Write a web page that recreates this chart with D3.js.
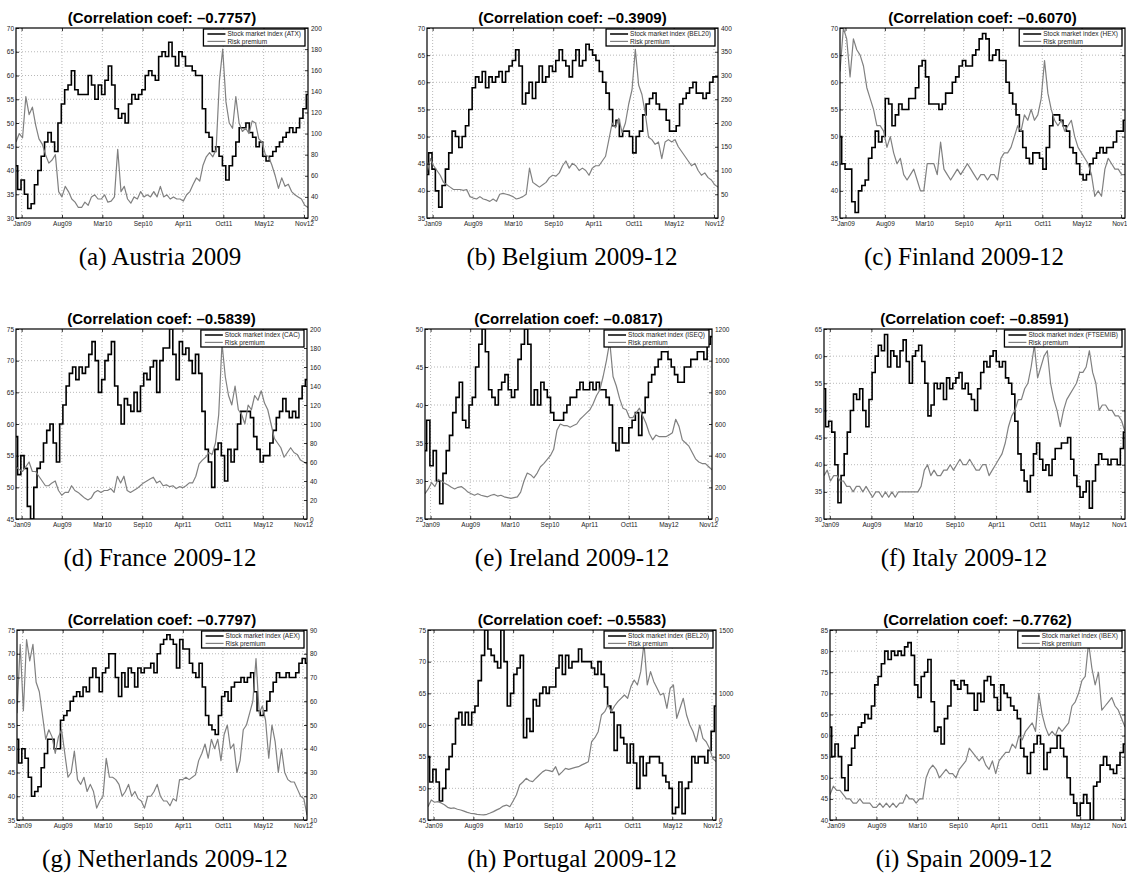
<!DOCTYPE html>
<html><head><meta charset="utf-8">
<script src="https://cdn.jsdelivr.net/npm/d3@7"></script>
<style>body{margin:0;background:#fff}svg{display:block}</style>
</head><body><svg id="c" width="1127" height="881"></svg>
<script>
const xTickLabels = ["Jan09","Aug09","Mar10","Sep10","Apr11","Oct11","May12","Nov12"];
const xDomain = [-0.14, 7.1];

const coefficients = [-0.7757,-0.3909,-0.6070,-0.5839,-0.0817,-0.8591,-0.7797,-0.5583,-0.7762];
const captions = ["(a) Austria 2009","(b) Belgium 2009-12","(c) Finland 2009-12","(d) France 2009-12","(e) Ireland 2009-12","(f) Italy 2009-12","(g) Netherlands 2009-12","(h) Portugal 2009-12","(i) Spain 2009-12"];
const indexNames = ["ATX","BEL20","HEX","CAC","ISEQ","FTSEMIB","AEX","BEL20","IBEX"];
const leftDomains = [[30,70],[35,70],[35,70],[45,75],[25,50],[30,65],[35,75],[45,75],[40,85]];
const rightDomains = [[20,200],[0,400],[35,70],[0,200],[0,1200],[30,65],[10,90],[0,1500],[40,85]];
const rightSteps = [20,50,5,20,200,5,10,500,5];

const austriaIndex = [41,36,38,35,32,33,37,40,43,46,48,46,44,50,54,57,58,61,57,56,56,56,60,58,55,58,56,59,62,58,53,51,52,50,54,56,55,56,57,60,61,60,59,64,65,64,67,64,62,65,64,62,62,61,60,60,53,48,47,44,45,43,41,38,41,43,46,49,49,50,48,47,45,46,43,42,43,44,45,46,47,48,49,48,49,51,53,56];
const austriaRisk = [92,100,96,135,118,125,108,95,90,80,72,75,80,45,40,50,45,38,35,30,30,35,32,40,42,38,38,42,35,36,40,85,45,50,38,34,40,38,45,40,42,40,45,40,50,40,42,38,40,38,38,36,42,45,52,58,55,70,78,82,78,85,150,180,130,110,105,135,110,102,105,100,112,110,95,92,80,78,70,60,48,58,50,52,45,42,40,38,32,30];

const belgiumIndex = [43,47,44,40,37,41,44,47,51,50,48,50,52,55,59,61,60,62,59,61,60,61,62,60,62,63,64,66,63,56,58,60,57,60,63,60,61,63,62,64,66,64,63,61,64,66,63,64,67,66,65,64,62,60,58,55,52,53,50,51,51,50,47,50,51,54,56,57,58,56,55,55,53,51,51,52,56,57,58,59,60,58,58,57,58,60,61,61];
const belgiumRisk = [95,125,110,100,90,75,70,65,60,60,60,58,60,45,42,40,45,40,38,35,40,35,50,52,50,48,45,40,42,45,50,105,75,70,65,70,75,85,90,88,95,110,120,105,115,110,100,105,100,90,105,110,110,120,130,165,200,190,210,180,200,240,270,355,280,260,220,170,165,155,160,125,160,165,160,165,150,140,130,120,110,115,100,90,95,85,80,70,65];

const finlandIndex = [50,45,44,44,38,36,40,41,42,46,48,51,49,50,57,56,52,54,56,55,55,57,57,59,63,64,61,56,56,56,55,56,58,58,60,61,63,64,63,63,65,66,68,69,68,64,65,66,64,64,60,58,56,54,51,48,46,45,47,47,46,44,48,52,54,54,53,52,51,48,47,45,43,42,43,45,46,47,48,47,48,48,49,51,51,53];
const finlandRisk = [62,70,68,61,68,66,65,63,59,57,55,52,52,51,48,50,47,45,46,43,42,43,44,42,40,40,45,45,45,43,49,44,43,42,43,44,43,44,45,44,43,42,43,43,42,43,43,42,46,47,47,48,50,52,51,54,53,55,53,54,57,64,58,55,53,52,53,51,52,53,50,48,47,46,45,43,39,40,39,44,46,45,44,44,43,43];

const franceIndex = [58,52,55,53,47,45,50,53,54,57,59,60,57,54,60,63,66,68,69,67,69,68,69,71,73,70,65,67,70,71,73,66,63,60,64,63,62,65,62,66,68,67,69,70,65,70,72,72,75,71,67,73,71,72,70,68,71,68,62,56,54,50,56,57,55,51,56,54,56,60,62,62,62,61,58,56,54,55,55,57,59,61,62,64,62,61,62,61,64,66,67];
const franceRisk = [55,52,50,55,60,50,50,45,40,35,35,38,40,30,25,28,28,35,30,28,25,22,20,22,28,30,28,30,30,32,28,45,38,45,30,28,30,32,35,38,40,42,44,38,40,35,36,34,35,32,34,33,35,38,38,45,58,62,65,70,68,80,110,185,150,130,120,140,115,110,100,120,115,130,125,135,122,115,100,85,80,75,65,70,75,70,68,62,60,58];

const irelandIndex = [34,38,32,34,30,27,31,34,36,39,41,43,38,37,40,41,45,48,50,47,42,41,40,42,43,44,42,41,42,46,48,50,48,40,42,40,43,42,41,39,38,38,38,39,40,41,41,42,43,42,42,43,42,43,42,42,41,40,35,34,37,35,35,37,38,39,36,39,41,43,44,45,46,47,47,46,45,44,43,43,45,45,46,46,47,47,46,48,49];
const irelandRisk = [160,190,230,205,250,240,225,215,200,190,200,205,190,170,160,150,160,150,145,140,150,155,145,150,140,135,130,135,140,170,240,290,280,260,290,330,350,375,400,440,560,600,590,590,580,590,600,630,650,670,690,730,780,815,900,1000,1120,900,840,760,700,690,640,640,670,700,650,605,540,500,530,520,520,520,530,545,630,585,500,480,460,420,380,360,350,350,330,310];

const italyIndex = [54,47,48,46,40,33,38,42,46,50,53,52,54,50,47,52,57,60,62,61,64,58,61,60,58,61,63,59,55,60,61,62,59,55,49,51,55,54,55,52,56,54,55,56,57,54,55,53,52,50,54,57,59,58,60,61,59,58,59,56,55,53,48,42,39,37,35,38,42,44,41,39,40,38,41,43,43,44,44,45,41,38,36,34,35,37,32,37,40,42,41,41,40,41,41,40,43,46];
const italyRisk = [38,39,37,38,38,37,37,36,36,35,36,36,35,36,35,34,35,35,34,35,34,35,34,35,35,35,35,35,35,35,36,39,40,38,39,38,38,39,39,40,39,40,41,40,40,41,40,39,39,40,40,38,39,40,41,42,44,47,49,50,52,52,54,55,58,62,56,58,60,61,55,52,50,47,50,52,53,54,55,57,57,58,61,57,55,50,51,51,50,50,49,49,48,46];

const netherlandsIndex = [52,47,50,48,44,40,41,42,46,49,52,52,50,50,56,57,58,60,61,62,61,63,62,65,67,65,62,66,67,70,70,65,61,66,63,67,66,63,67,66,67,67,68,66,70,72,73,74,73,72,67,73,71,71,68,66,65,68,63,57,55,54,53,57,61,62,60,63,64,64,65,64,65,66,62,58,57,58,60,62,64,66,65,65,66,65,65,66,68,69,68];
const netherlandsRisk = [55,84,56,86,77,84,68,64,54,44,48,45,38,45,48,38,28,30,39,27,25,28,22,25,22,15,18,20,36,28,28,27,25,20,22,25,20,22,19,18,15,20,20,22,25,20,18,18,16,19,18,27,27,28,27,28,29,35,38,42,36,44,40,44,35,46,50,40,42,30,35,48,50,55,60,78,55,58,52,36,50,43,30,40,30,27,26,26,23,20,19,12];

const portugalIndex = [55,51,53,51,48,50,53,55,57,61,62,60,62,60,62,63,67,71,75,72,71,70,69,75,70,63,65,68,69,71,58,61,59,64,63,65,66,65,66,66,69,71,68,71,69,70,70,72,70,70,70,69,68,70,68,66,63,62,56,60,58,57,54,57,54,50,55,52,54,55,55,55,54,52,51,50,46,47,51,46,50,51,55,54,55,55,54,56,59,63];
const portugalRisk = [105,158,140,145,135,120,100,92,95,85,79,70,60,53,50,45,42,40,45,55,66,80,92,110,118,105,150,197,276,300,329,310,303,330,355,380,395,390,382,421,355,380,408,400,408,415,421,435,447,460,618,650,697,829,855,908,855,900,934,960,987,961,1053,1105,1066,1171,1395,1066,1171,1092,1040,987,1000,882,1040,1066,803,882,961,829,750,697,618,750,645,618,566,487,461];

const spainIndex = [62,55,58,55,50,47,53,57,60,62,63,65,64,67,72,74,77,80,78,80,79,80,79,81,82,79,72,69,74,75,78,68,61,62,58,64,67,73,72,71,73,72,70,70,66,70,68,73,74,72,69,66,72,70,69,67,66,64,57,55,51,56,58,60,58,52,56,57,57,60,57,55,50,46,44,41,44,46,44,40,48,49,53,55,53,52,51,53,56,58];
const spainRisk = [46,48,47,47,46,45,45,44,44,45,44,44,44,43,43,44,43,44,43,44,43,44,44,46,45,45,44,45,45,50,52,53,52,50,51,52,51,51,50,52,53,54,57,56,55,54,55,53,52,54,51,54,55,56,56,58,57,60,59,61,62,63,61,70,65,62,60,61,60,62,61,62,63,67,68,70,73,74,82,76,72,75,66,67,68,69,67,66,64,62];

const stockSeries = [austriaIndex,belgiumIndex,finlandIndex,franceIndex,irelandIndex,italyIndex,netherlandsIndex,portugalIndex,spainIndex];
const riskSeries = [austriaRisk,belgiumRisk,finlandRisk,franceRisk,irelandRisk,italyRisk,netherlandsRisk,portugalRisk,spainRisk];

// layout (pixels) kept apart from the data; rightLabels=false where the reference crops them off
const layout = [
 {L:16,R:308,T:28,B:218,cap:160,rightLabels:true},
 {L:427,R:718,T:28,B:218,cap:572,rightLabels:true},
 {L:840,R:1125,T:28,B:218,cap:964,rightLabels:false},
 {L:16,R:307,T:329,B:519,cap:160,rightLabels:true},
 {L:425,R:712,T:329,B:519,cap:572,rightLabels:true},
 {L:824,R:1125,T:329,B:519,cap:964,rightLabels:false},
 {L:17,R:307,T:630,B:820,cap:165,rightLabels:true},
 {L:428,R:716,T:630,B:820,cap:572,rightLabels:true},
 {L:830,R:1125,T:630,B:820,cap:964,rightLabels:false}
];

const SANS = "'Liberation Sans', Arial, Helvetica, sans-serif";
const SERIF = "'Liberation Serif', 'Times New Roman', serif";
const svg = d3.select("#c");
const fmtCoef = v => v.toFixed(4).replace("-", "\u2013");

stockSeries.forEach((stock, k) => {
  const lay = layout[k];
  const risk = riskSeries[k];
  const g = svg.append("g");
  const x = d3.scaleLinear().domain(xDomain).range([lay.L, lay.R]);
  const yL = d3.scaleLinear().domain(leftDomains[k]).range([lay.B, lay.T]);
  const yR = d3.scaleLinear().domain(rightDomains[k]).range([lay.B, lay.T]);
  const leftTicks = d3.range(leftDomains[k][0], leftDomains[k][1] + 0.001, 5);
  const rightTicks = d3.range(rightDomains[k][0], rightDomains[k][1] + 0.001, rightSteps[k]);
  const xTicks = d3.range(xTickLabels.length);

  // grid
  g.append("g").selectAll("line").data(xTicks).join("line")
    .attr("x1", d => x(d)).attr("x2", d => x(d)).attr("y1", lay.T).attr("y2", lay.B)
    .attr("stroke", "#9a9a9a").attr("stroke-width", 0.7).attr("stroke-dasharray", "1,2");
  g.append("g").selectAll("line").data(leftTicks.slice(1, -1)).join("line")
    .attr("x1", lay.L).attr("x2", lay.R).attr("y1", d => yL(d)).attr("y2", d => yL(d))
    .attr("stroke", "#9a9a9a").attr("stroke-width", 0.7).attr("stroke-dasharray", "1,2");

  const cid = "clip" + k;
  g.append("clipPath").attr("id", cid).append("rect")
    .attr("x", lay.L).attr("y", lay.T).attr("width", lay.R - lay.L).attr("height", lay.B - lay.T);

  const posX = (arr) => (d, i) => x(xDomain[0] + i * (xDomain[1] - xDomain[0]) / (arr.length - 1));
  g.append("path").datum(stock)
    .attr("clip-path", `url(#${cid})`)
    .attr("d", d3.line().curve(d3.curveStep).x(posX(stock)).y(d => yL(d)))
    .attr("fill", "none").attr("stroke", "#000").attr("stroke-width", 1.6).attr("stroke-linejoin", "miter");
  g.append("path").datum(risk)
    .attr("clip-path", `url(#${cid})`)
    .attr("d", d3.line().x(posX(risk)).y(d => yR(d)))
    .attr("fill", "none").attr("stroke", "#808080").attr("stroke-width", 1.2).attr("stroke-linejoin", "round");

  const styleAxis = sel => {
    sel.select(".domain").remove();
    sel.selectAll(".tick line").attr("stroke", "#000").attr("stroke-width", 0.8);
    sel.selectAll(".tick text").attr("font-family", SANS).attr("font-size", 6.5).attr("fill", "#222");
  };
  g.append("g").attr("transform", `translate(0,${lay.B})`)
    .call(d3.axisBottom(x).tickValues(xTicks).tickFormat(i => xTickLabels[i]).tickSizeInner(-3).tickSizeOuter(0).tickPadding(3))
    .call(styleAxis);
  g.append("g").attr("transform", `translate(0,${lay.T})`)
    .call(d3.axisTop(x).tickValues(xTicks).tickFormat("").tickSizeInner(-3).tickSizeOuter(0))
    .call(styleAxis);
  g.append("g").attr("transform", `translate(${lay.L},0)`)
    .call(d3.axisLeft(yL).tickValues(leftTicks).tickFormat(d3.format("d")).tickSizeInner(-3).tickSizeOuter(0).tickPadding(2))
    .call(styleAxis);
  g.append("g").attr("transform", `translate(${lay.R},0)`)
    .call(d3.axisRight(yR).tickValues(rightTicks).tickFormat(lay.rightLabels ? d3.format("d") : "").tickSizeInner(-3).tickSizeOuter(0).tickPadding(3))
    .call(styleAxis);

  g.append("rect").attr("x", lay.L).attr("y", lay.T).attr("width", lay.R - lay.L).attr("height", lay.B - lay.T)
    .attr("fill", "none").attr("stroke", "#000").attr("stroke-width", 1.2);

  // legend
  const lg = g.append("g");
  const box = lg.append("rect").attr("fill", "#fff").attr("stroke", "#000").attr("stroke-width", 1.3);
  const entries = [
    {label: `Stock market index (${indexNames[k]})`, color: "#000", w: 1.5},
    {label: "Risk premium", color: "#808080", w: 1.2}
  ];
  let maxW = 0;
  entries.forEach((e, j) => {
    const t = lg.append("text").attr("y", j * 7.4 + 2.3).attr("x", 24)
      .attr("font-family", SANS).attr("font-size", 6.5).attr("fill", "#222").text(e.label);
    maxW = Math.max(maxW, t.node().getComputedTextLength());
    lg.append("line").attr("x1", 4).attr("x2", 22).attr("y1", j * 7.4).attr("y2", j * 7.4)
      .attr("stroke", e.color).attr("stroke-width", e.w);
  });
  const bw = maxW + 28, bh = 17;
  box.attr("x", 0).attr("y", -5).attr("width", bw).attr("height", bh);
  lg.attr("transform", `translate(${lay.R - 3 - bw},${lay.T + 6})`);

  svg.append("text").attr("x", (lay.L + lay.R) / 2).attr("y", lay.T - 5)
    .attr("text-anchor", "middle").attr("font-family", SANS).attr("font-weight", "bold")
    .attr("font-size", 15).attr("fill", "#000")
    .text(`(Correlation coef: ${fmtCoef(coefficients[k])})`);

  svg.append("text").attr("x", lay.cap).attr("y", lay.B + 47)
    .attr("text-anchor", "middle").attr("font-family", SERIF)
    .attr("font-size", 25).attr("fill", "#000").text(captions[k]);
});
</script>
</body></html>
